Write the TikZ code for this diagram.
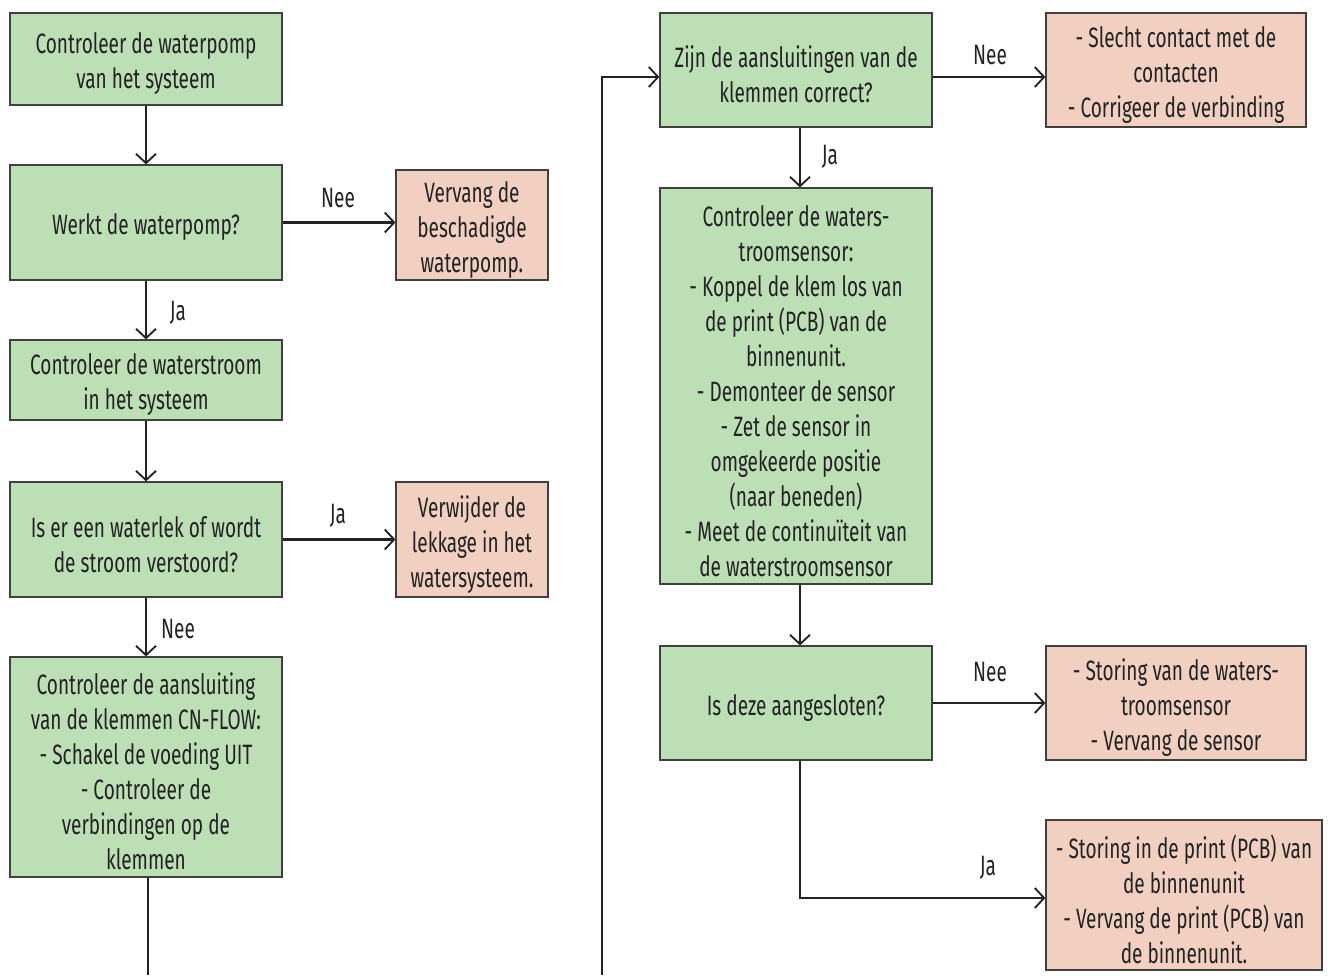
\documentclass[tikz,border=0pt]{standalone}
\usepackage{fontspec}
\setmainfont{Fira Sans}[FakeStretch=0.68]
\usetikzlibrary{arrows.meta}
\definecolor{gfill}{HTML}{BDDFB5}
\definecolor{pfill}{HTML}{F2D0C1}
\definecolor{edge}{HTML}{404040}
\definecolor{ink}{HTML}{222222}
\tikzset{
  box/.style={draw=edge, line width=0.9pt, inner sep=0pt},
  gbox/.style={box, fill=gfill},
  pbox/.style={box, fill=pfill},
  txt/.style={align=center, inner sep=0pt, font=\fontsize{21}{26.25}\selectfont, text=ink},
  conn/.style={line width=1.6pt, draw=ink, -{Straight Barb[length=7pt,width=15pt,line width=1.4pt]}},
  plain/.style={line width=1.6pt, draw=ink},
  lbl/.style={font=\fontsize{21}{26}\selectfont, text=ink}
}
\newcommand{\boxtext}[2]{\node[txt] at ([yshift=-3.5pt]#1.center) {#2};}
\begin{document}
\begin{tikzpicture}[x=0.75pt,y=-0.75pt]
\useasboundingbox (0,0) rectangle (1339,975);
\node[gbox, minimum width=272*0.75pt, minimum height=92*0.75pt] (b1) at (146,59) {};
\node[gbox, minimum width=272*0.75pt, minimum height=115*0.75pt] (b2) at (146,222.5) {};
\node[pbox, minimum width=152*0.75pt, minimum height=110*0.75pt] (p1) at (472,225) {};
\node[gbox, minimum width=272*0.75pt, minimum height=80*0.75pt] (b3) at (146,380) {};
\node[gbox, minimum width=272*0.75pt, minimum height=115*0.75pt] (b4) at (146,539.5) {};
\node[pbox, minimum width=152*0.75pt, minimum height=115*0.75pt] (p2) at (472,539.5) {};
\node[gbox, minimum width=272*0.75pt, minimum height=220*0.75pt] (b5) at (146,767) {};
\node[gbox, minimum width=272*0.75pt, minimum height=114*0.75pt] (b6) at (796,70) {};
\node[pbox, minimum width=260*0.75pt, minimum height=114*0.75pt] (p3) at (1176,70) {};
\node[gbox, minimum width=272*0.75pt, minimum height=396*0.75pt] (b7) at (796,386) {};
\node[gbox, minimum width=272*0.75pt, minimum height=114*0.75pt] (b8) at (796,703) {};
\node[pbox, minimum width=260*0.75pt, minimum height=114*0.75pt] (p4) at (1176,703) {};
\node[pbox, minimum width=276*0.75pt, minimum height=150*0.75pt] (p5) at (1184,895) {};
\boxtext{b1}{Controleer de waterpomp\\van het systeem}
\boxtext{b2}{Werkt de waterpomp?}
\boxtext{p1}{Vervang de\\beschadigde\\waterpomp.}
\boxtext{b3}{Controleer de waterstroom\\in het systeem}
\boxtext{b4}{Is er een waterlek of wordt\\de stroom verstoord?}
\boxtext{p2}{Verwijder de\\lekkage in het\\watersysteem.}
\boxtext{b5}{Controleer de aansluiting\\van de klemmen CN-FLOW:\\- Schakel de voeding UIT\\- Controleer de\\verbindingen op de\\klemmen}
\boxtext{b6}{Zijn de aansluitingen van de\\klemmen correct?}
\boxtext{p3}{- Slecht contact met de\\contacten\\- Corrigeer de verbinding}
\boxtext{b7}{Controleer de waters-\\troomsensor:\\- Koppel de klem los van\\de print (PCB) van de\\binnenunit.\\- Demonteer de sensor\\- Zet de sensor in\\omgekeerde positie\\(naar beneden)\\- Meet de continuïteit van\\de waterstroomsensor}
\boxtext{b8}{Is deze aangesloten?}
\boxtext{p4}{- Storing van de waters-\\troomsensor\\- Vervang de sensor}
\boxtext{p5}{- Storing in de print (PCB) van\\de binnenunit\\- Vervang de print (PCB) van\\de binnenunit.}
\coordinate (e1) at (148,975);
\coordinate (e2) at (602,975);
\coordinate (k1) at (602,77);
\coordinate (k2) at (800,898);
\draw[conn] (b1.south) -- (b2.north);
\draw[conn] (b2.east) -- (p1.west |- b2.east);
\draw[conn] (b2.south) -- (b3.north);
\draw[conn] (b3.south) -- (b4.north);
\draw[conn] (b4.east) -- (p2.west);
\draw[conn] (b4.south) -- (b5.north);
\draw[plain] (b5.south -| e1) -- (e1);
\draw[conn] (e2) -- (k1) -- (b6.west |- k1);
\draw[conn] (b6.east |- k1) -- (p3.west |- k1);
\draw[conn] (b6.south -| 800,0) -- (b7.north -| 800,0);
\draw[conn] (b7.south -| 800,0) -- (b8.north -| 800,0);
\draw[conn] (b8.east) -- (p4.west);
\draw[conn] (b8.south -| k2) -- (k2) -- (p5.west |- k2);
\node[lbl] (l1) at (338,198) {Nee};
\node[lbl] (l2) at (178,313) {Ja};
\node[lbl] (l3) at (338,516) {Ja};
\node[lbl] (l4) at (178,629) {Nee};
\node[lbl] (l5) at (990,55) {Nee};
\node[lbl] (l6) at (830,157) {Ja};
\node[lbl] (l7) at (990,672) {Nee};
\node[lbl] (l8) at (988,868) {Ja};
\end{tikzpicture}
\end{document}
